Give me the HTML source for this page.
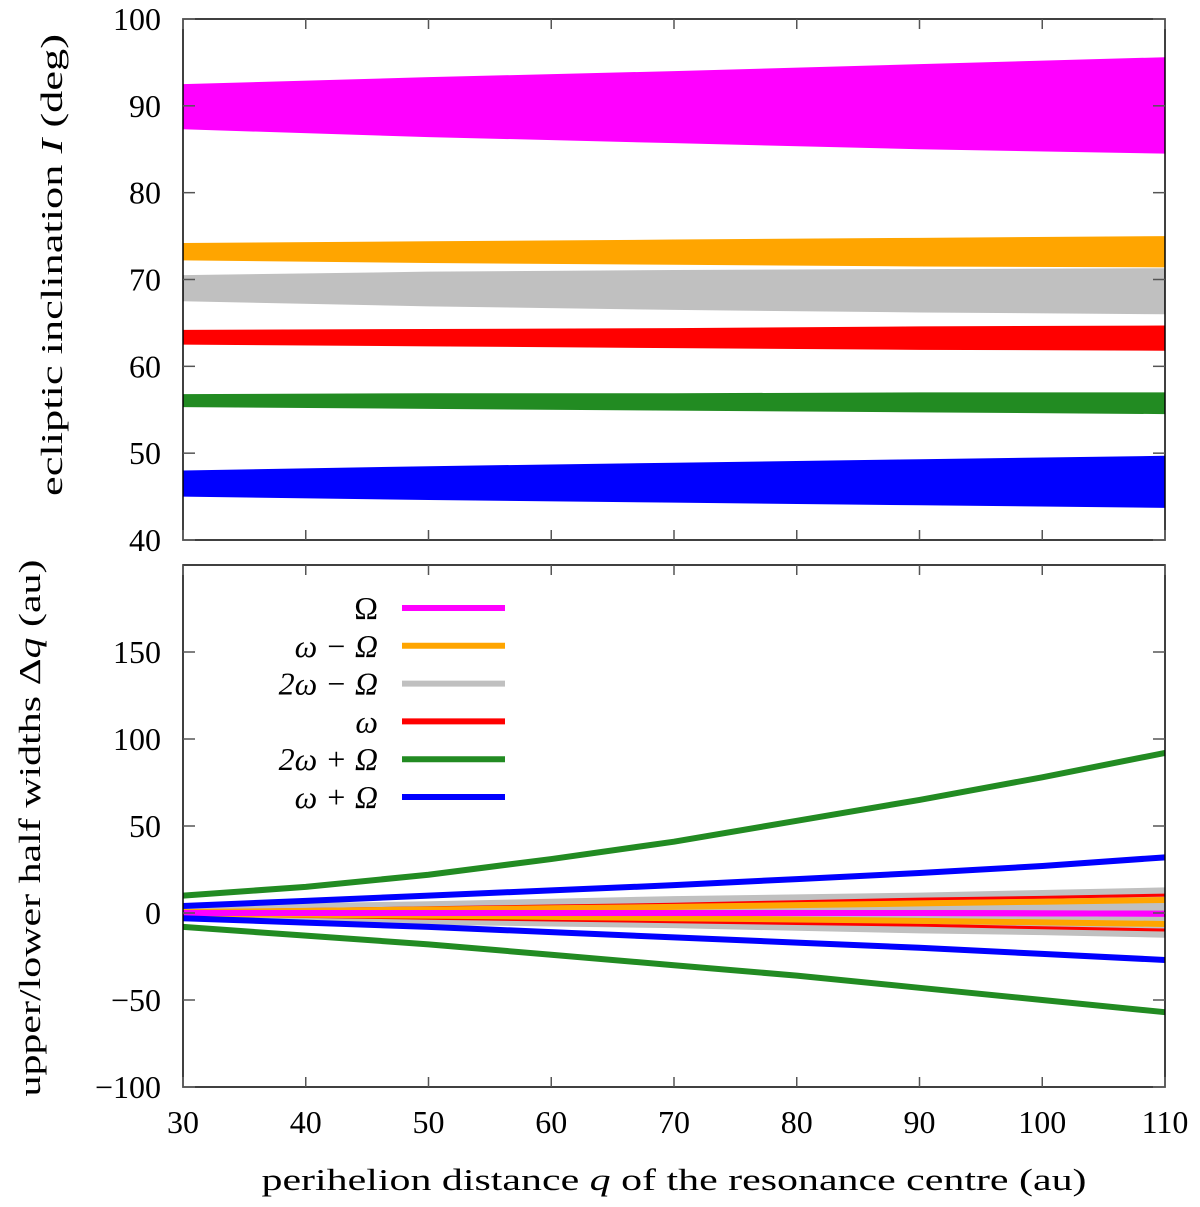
<!DOCTYPE html>
<html><head><meta charset="utf-8"><style>
body{margin:0;background:#fff}
svg text{font-family:"Liberation Serif","DejaVu Serif",serif;fill:#000}
</style></head><body>
<svg id="chart" width="1200" height="1202" viewBox="0 0 1200 1202" xmlns="http://www.w3.org/2000/svg">
<g id="topPanel"></g>
<g id="botPanel"></g>
<text transform="translate(62,265) rotate(-90)" font-size="31" text-anchor="middle" textLength="462" lengthAdjust="spacingAndGlyphs">ecliptic inclination <tspan font-style="italic">I</tspan> (deg)</text>
<text transform="translate(40,828) rotate(-90)" font-size="31" text-anchor="middle" textLength="537" lengthAdjust="spacingAndGlyphs">upper/lower half widths Δ<tspan font-style="italic">q</tspan> (au)</text>
<text x="674" y="1190" font-size="31" text-anchor="middle" textLength="825" lengthAdjust="spacingAndGlyphs">perihelion distance <tspan font-style="italic">q</tspan> of the resonance centre (au)</text>
</svg>
<script>
const xTicks=[30,40,50,60,70,80,90,100,110];
// top panel: inclination bands (lower / upper, deg)
const qTop=[30,50,70,90,110];
const bandNames=["Omega","omega-minus-Omega","2omega-minus-Omega","omega","2omega-plus-Omega","omega-plus-Omega"];
const bandColors=["#ff00ff","#ffa500","#c0c0c0","#ff0000","#228b22","#0000ff"];
const bandLower=[[87.3,86.4,85.7,85.0,84.5],[72.2,71.9,71.7,71.5,71.4],[67.5,66.9,66.5,66.2,66.0],[62.5,62.3,62.1,61.9,61.8],[55.3,55.1,54.9,54.7,54.5],[45.0,44.6,44.3,44.0,43.7]];
const bandUpper=[[92.5,93.3,94.0,94.8,95.6],[74.2,74.4,74.6,74.8,75.0],[70.5,70.9,71.1,71.2,71.3],[64.2,64.3,64.4,64.6,64.7],[56.8,56.9,56.9,57.0,57.0],[48.0,48.5,48.9,49.3,49.7]];
const topYTicks=[40,50,60,70,80,90,100];
// bottom panel: upper/lower half widths (au)
const qBot=[30,40,50,60,70,80,90,100,110];
const lineUpper=[
 [0,0,0,0,0,0,0,-0.2,-0.4],
 [0.5,1.2,2,2.7,3.5,4.5,5.5,6.5,7.5],
 [3,4,5,6.5,8,9,10,11.5,13],
 [1,2,3,4,5,6.5,8,9,10.3],
 [10,15,22,31,41,53,65,78,92],
 [4,7,10,13,16,19.5,23,27,32]];
const lineLower=[
 [0,0,0,0,0,0,0,-0.2,-0.4],
 [-0.5,-1,-1.5,-2.2,-3,-3.7,-4.5,-5.4,-6.3],
 [-3,-4,-5,-6,-7,-8.5,-10,-11,-12.5],
 [-1,-2,-3,-4,-5,-6,-7,-8.5,-9.8],
 [-8,-13,-18,-24,-30,-36,-43,-50,-57],
 [-3,-5.5,-8,-11,-14,-17,-20,-23.5,-27]];
const botYTicks=[-100,-50,0,50,100,150];
const legendLabels=["Ω","ω − Ω","2ω − Ω","ω","2ω + Ω","ω + Ω"];

const NS="http://www.w3.org/2000/svg";
function mk(p,t,a){const e=document.createElementNS(NS,t);for(const k in a)e.setAttribute(k,a[k]);p.appendChild(e);return e;}
const X0=183,X1=1165;
const xs=q=>X0+(q-30)/(110-30)*(X1-X0);
const T0=19,T1=540; const yt=v=>T1-(v-40)/60*(T1-T0);
const B0=565,B1=1087; const yb=v=>B1-(v+100)/300*(B1-B0);
const gTop=document.getElementById('topPanel'),gBot=document.getElementById('botPanel');

bandNames.forEach((n,i)=>{
  let pts=qTop.map((q,j)=>xs(q)+','+yt(bandUpper[i][j]));
  pts=pts.concat(qTop.map((q,j)=>xs(q)+','+yt(bandLower[i][j])).reverse());
  const p=mk(gTop,'polygon',{points:pts.join(' '),fill:bandColors[i]});
  
  
});
{
  let pts=qBot.map((q,j)=>xs(q)+','+yb(lineUpper[2][j]));
  pts=pts.concat(qBot.map((q,j)=>xs(q)+','+yb(lineLower[2][j])).reverse());
  const p=mk(gBot,'polygon',{points:pts.join(' '),fill:'#c0c0c0'});
  
  
}
[2,3,1,0,5,4].forEach(i=>{
  [lineUpper,lineLower].forEach((arr,k)=>{
    const d='M'+qBot.map((q,j)=>xs(q)+','+yb(arr[i][j])).join(' L');
    const p=mk(gBot,'path',{d:d,fill:'none',stroke:bandColors[i],'stroke-width':i==3?3:6,'stroke-linejoin':'round'});
    
    
  });
});
function frame(g,y0,y1,yticks,yf,name){
  const r=mk(g,'rect',{x:X0,y:y0,width:X1-X0,height:y1-y0,fill:'none',stroke:'#000','stroke-width':1.5});
  
  
  xTicks.forEach(t=>{const x=xs(t);
    mk(g,'line',{x1:x,x2:x,y1:y1,y2:y1-10,stroke:'#555','stroke-width':1.5});
    mk(g,'line',{x1:x,x2:x,y1:y0,y2:y0+10,stroke:'#555','stroke-width':1.5});});
  yticks.forEach(t=>{const y=yf(t);
    mk(g,'line',{x1:X0,x2:X0+12,y1:y,y2:y,stroke:'#555','stroke-width':1.5});
    mk(g,'line',{x1:X1,x2:X1-12,y1:y,y2:y,stroke:'#555','stroke-width':1.5});
    const tx=mk(g,'text',{x:161,y:y+11,'font-size':32,'text-anchor':'end'});
    tx.textContent=t<0?'−'+(-t):String(t);
    
    
  });
}
frame(gTop,T0,T1,topYTicks,yt,'top');
frame(gBot,B0,B1,botYTicks,yb,'bottom');
xTicks.forEach(t=>{
  const tx=mk(gBot,'text',{x:xs(t),y:1133,'font-size':32,'text-anchor':'middle'});
  tx.textContent=t;
  
  
});
legendLabels.forEach((l,i)=>{
  const y=608+i*37.8;
  const tx=mk(gBot,'text',{x:378,y:y+11,'font-size':32,'text-anchor':'end','font-style':i==0?'normal':'italic'});
  tx.textContent=l;
  
  
  const ln=mk(gBot,'line',{x1:402,x2:505,y1:y,y2:y,stroke:bandColors[i],'stroke-width':6});
  
  
});
</script>
</body></html>
